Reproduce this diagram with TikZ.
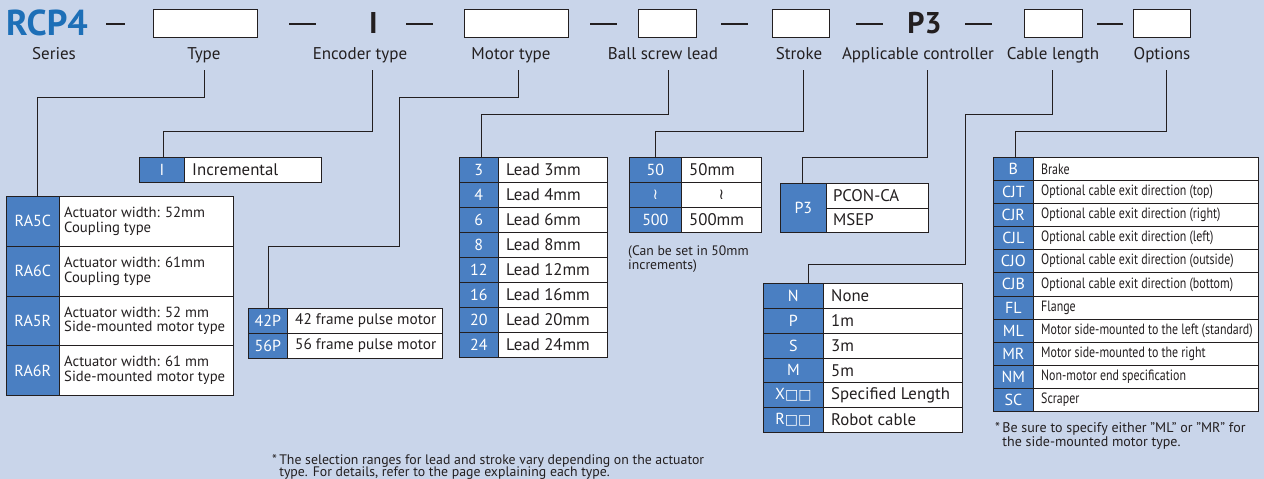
\documentclass[tikz,border=0pt]{standalone}
\usepackage{fontspec}
\setmainfont{PT Sans}
\newfontfamily\narrowfont{PT Sans}[FakeStretch=0.8]
\newfontfamily\symfont{DejaVu Sans}
\definecolor{bg}{HTML}{C9D5EA}
\definecolor{cellblue}{HTML}{4A7FC2}
\definecolor{titleblue}{HTML}{1D6FB7}
\definecolor{ink}{HTML}{231F20}
\newcommand{\fs}[1]{\fontsize{#1}{#1}\selectfont}
% name, x0, xdiv, x1, ytop, height, code, description, extra style for description
\newcommand{\trow}[9]{%
  \node[codecell, anchor=north west, minimum width={(#3-#2)*1pt}, minimum height={#6*1pt}] (#1c) at (#2,#5) {#7};
  \node[desccell, anchor=north west, minimum width={(#4-#3)*1pt}, minimum height={#6*1pt}] (#1d) at (#3,#5) {};
  \node[desctext, #9] (#1t) at ([xshift=8pt]#1d.west) {#8};
}
\newcommand{\tframe}[5]{% name, x0, x1, ytop, ybottom
  \node[tblframe, anchor=north west, minimum width={(#3-#2)*1pt}, minimum height={(#5-#4)*1pt}] (#1) at (#2,#4) {};
}
\begin{document}
\begin{tikzpicture}[x=1pt,y=-1pt,
  codecell/.style={draw=ink, line width=0.7pt, fill=cellblue, text=white, inner sep=0pt, font=\fs{16}},
  desccell/.style={draw=ink, line width=0.7pt, fill=white, inner sep=0pt},
  desctext/.style={anchor=west, inner sep=0pt, text=ink, font=\fs{16.8}, align=left},
  tblframe/.style={draw=ink, line width=1.4pt, inner sep=0pt},
  blank/.style={draw=ink, line width=1.4pt, fill=white, inner sep=0pt, anchor=north west},
  sep/.style={draw=ink, line width=1.2pt},
  lbl/.style={anchor=base, inner sep=0pt, text=ink, font=\fs{17}},
  fixed/.style={anchor=base, inner sep=0pt, text=ink, font=\fs{30}\bfseries},
  conn/.style={draw=ink, line width=0.9pt},
  note/.style={anchor=base west, inner sep=0pt, text=ink, align=left},
  opttext/.style={font=\narrowfont\fs{14.9}}
]
\fill[bg] (0,0) rectangle (1264,479);
\useasboundingbox (0,0) rectangle (1264,479);

% ---------- header ----------
\node[anchor=base west, inner sep=0pt, text=titleblue, font=\fs{36}\bfseries] (series) at (6,35) {RCP4};
\draw[sep] (106,24) -- (125,24);
\node[blank, minimum width=104pt, minimum height=28pt] (bType) at (153,9) {};
\draw[sep] (289,24) -- (316,24);
\node[fixed] (fI) at (373.5,33) {I};
\draw[sep] (406,24) -- (433,24);
\node[blank, minimum width=104pt, minimum height=28pt] (bMot) at (464,9) {};
\draw[sep] (590,24) -- (617,24);
\node[blank, minimum width=58pt, minimum height=28pt] (bBall) at (638,9) {};
\draw[sep] (721,24) -- (748,24);
\node[blank, minimum width=57pt, minimum height=28pt] (bStr) at (772,9) {};
\draw[sep] (856,24) -- (883,24);
\node[fixed] (fP3) at (924.5,33) {P3};
\draw[sep] (965,24) -- (992,24);
\node[blank, minimum width=58pt, minimum height=28pt] (bCab) at (1024,9) {};
\draw[sep] (1097,24) -- (1123,24);
\node[blank, minimum width=57pt, minimum height=28pt] (bOpt) at (1133,9) {};

\node[lbl] (lSeries) at (54,59) {Series};
\node[lbl] (lType) at (204,59) {Type};
\node[lbl] (lEnc) at (360,59) {Encoder type};
\node[lbl] (lMot) at (511,59) {Motor type};
\node[lbl] (lBall) at (663,59) {Ball screw lead};
\node[lbl] (lStr) at (799,59) {Stroke};
\node[lbl] (lApp) at (918,59) {Applicable controller};
\node[lbl] (lCab) at (1053,59) {Cable length};
\node[lbl] (lOpt) at (1162,59) {Options};

% ---------- Encoder table ----------
\trow{inc}{139}{184}{321}{157}{25}{I}{Incremental}{}
\tframe{tInc}{139}{321}{157}{182}

% ---------- Type table ----------
\trow{ty1}{6}{59}{233}{196}{49.75}{RA5C}{Actuator width: 52mm\\Coupling type}{font=\fs{14.7}, xshift=-3pt}
\trow{ty2}{6}{59}{233}{245.75}{49.75}{RA6C}{Actuator width: 61mm\\Coupling type}{font=\fs{14.7}, xshift=-3pt}
\trow{ty3}{6}{59}{233}{295.5}{49.75}{RA5R}{Actuator width: 52 mm\\Side-mounted motor type}{font=\fs{14.7}, xshift=-3pt}
\trow{ty4}{6}{59}{233}{345.25}{49.75}{RA6R}{Actuator width: 61 mm\\Side-mounted motor type}{font=\fs{14.7}, xshift=-3pt}
\tframe{tType}{6}{233}{196}{395}

% ---------- Motor table ----------
\trow{mo1}{248}{287}{442}{308}{25}{42P}{42 frame pulse motor}{font=\fs{15.3}}
\trow{mo2}{248}{287}{442}{333}{25}{56P}{56 frame pulse motor}{font=\fs{15.3}}
\tframe{tMot}{248}{442}{308}{358}

% ---------- Lead table ----------
\trow{le1}{459}{498}{607}{157}{25}{3}{Lead 3mm}{}
\trow{le2}{459}{498}{607}{182}{25}{4}{Lead 4mm}{}
\trow{le3}{459}{498}{607}{207}{25}{6}{Lead 6mm}{}
\trow{le4}{459}{498}{607}{232}{25}{8}{Lead 8mm}{}
\trow{le5}{459}{498}{607}{257}{25}{12}{Lead 12mm}{}
\trow{le6}{459}{498}{607}{282}{25}{16}{Lead 16mm}{}
\trow{le7}{459}{498}{607}{307}{25}{20}{Lead 20mm}{}
\trow{le8}{459}{498}{607}{332}{25}{24}{Lead 24mm}{}
\tframe{tLead}{459}{607}{157}{357}

% ---------- Stroke table ----------
\trow{st1}{629}{681}{761}{157}{25}{50}{50mm}{}
\trow{st2}{629}{681}{761}{182}{25}{{\symfont\fs{15}≀}}{}{}
\node[inner sep=0pt, text=ink, font=\symfont\fs{15}] (st2s) at (st2d.center) {≀};
\trow{st3}{629}{681}{761}{207}{25}{500}{500mm}{}
\tframe{tStr}{629}{761}{157}{232}
\node[note, font=\fs{13.7}] (stnote) at (628,269) {(Can be set in 50mm\\[-0.5pt]increments)};

% ---------- Controller table ----------
\node[desccell, anchor=north west, minimum width=102pt, minimum height=24.5pt] (p3a) at (826,183) {};
\node[desccell, anchor=north west, minimum width=102pt, minimum height=24.5pt] (p3b) at (826,207.5) {};
\node[codecell, anchor=north west, minimum width=46pt, minimum height=49pt] (p3c) at (780,183) {P3};
\node[desctext] (p3at) at ([xshift=7pt]p3a.west) {PCON-CA};
\node[desctext] (p3bt) at ([xshift=7pt]p3b.west) {MSEP};
\tframe{tApp}{780}{928}{183}{232}

% ---------- Cable table ----------
\trow{ca1}{763}{823}{962}{283}{24.83}{N}{None}{}
\trow{ca2}{763}{823}{962}{307.83}{24.83}{P}{1m}{}
\trow{ca3}{763}{823}{962}{332.67}{24.83}{S}{3m}{}
\trow{ca4}{763}{823}{962}{357.5}{24.83}{M}{5m}{}
\trow{ca5}{763}{823}{962}{382.33}{24.83}{X{\symfont\fs{14}□□}}{Specified Length}{}
\trow{ca6}{763}{823}{962}{407.17}{24.83}{R{\symfont\fs{14}□□}}{Robot cable}{}
\tframe{tCab}{763}{962}{283}{432}

% ---------- Options table ----------
\trow{op1}{993}{1033}{1258}{157}{23.09}{B}{Brake}{opttext}
\trow{op2}{993}{1033}{1258}{180.09}{23.09}{CJT}{Optional cable exit direction (top)}{opttext}
\trow{op3}{993}{1033}{1258}{203.18}{23.09}{CJR}{Optional cable exit direction (right)}{opttext}
\trow{op4}{993}{1033}{1258}{226.27}{23.09}{CJL}{Optional cable exit direction (left)}{opttext}
\trow{op5}{993}{1033}{1258}{249.36}{23.09}{CJO}{Optional cable exit direction (outside)}{opttext}
\trow{op6}{993}{1033}{1258}{272.45}{23.09}{CJB}{Optional cable exit direction (bottom)}{opttext}
\trow{op7}{993}{1033}{1258}{295.55}{23.09}{FL}{Flange}{opttext}
\trow{op8}{993}{1033}{1258}{318.64}{23.09}{ML}{Motor side-mounted to the left (standard)}{opttext}
\trow{op9}{993}{1033}{1258}{341.73}{23.09}{MR}{Motor side-mounted to the right}{opttext}
\trow{op10}{993}{1033}{1258}{364.82}{23.09}{NM}{Non-motor end specification}{opttext}
\trow{op11}{993}{1033}{1258}{387.91}{23.09}{SC}{Scraper}{opttext}
\tframe{tOpt}{993}{1258}{157}{411}
\node[note, font=\fs{14}] (opnote) at (995,446) {*\,Be sure to specify either "ML" or "MR" for\\[-0.5pt]\phantom{*\,}the side-mounted motor type.};

% ---------- bottom note ----------
\node[note, font=\fs{13.8}] (foot) at (272,476) {*\,The selection ranges for lead and stroke vary depending on the actuator\\[-2.5pt]\phantom{*\,}type. For details, refer to the page explaining each type.};

% ---------- connectors ----------
\coordinate (cType) at (204,70);
\coordinate (cEnc) at (372,70);
\coordinate (cMot) at (518,70);
\coordinate (cBall) at (668,70);
\coordinate (cStr) at (803,70);
\coordinate (cApp) at (927,70);
\coordinate (cCab) at (1052,70);
\coordinate (cOpt) at (1166,70);
\draw[conn] (cType) |- (37,97) -- ([xshift=31pt]tType.north west);
\draw[conn] (cEnc) |- (163,131) -- ([xshift=24pt]tInc.north west);
\draw[conn] (cMot) |- (399,97) |- (268,246) -- ([xshift=20pt]tMot.north west);
\draw[conn] (cBall) |- (481,114) -- ([xshift=22pt]tLead.north west);
\draw[conn] (cStr) |- (655,131) -- ([xshift=26pt]tStr.north west);
\draw[conn] (cApp) |- (802,157) -- ([xshift=22pt]tApp.north west);
\draw[conn] (cCab) |- (965,114) |- (808,264) -- ([xshift=45pt]tCab.north west);
\draw[conn] (cOpt) |- (1015,131) -- ([xshift=22pt]tOpt.north west);
\end{tikzpicture}
\end{document}
